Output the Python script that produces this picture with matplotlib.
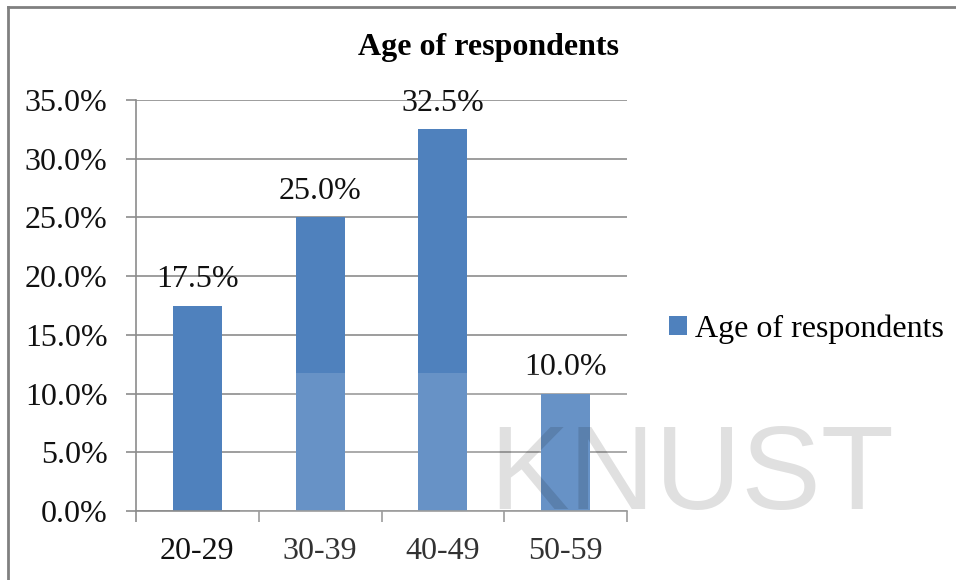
import matplotlib
matplotlib.use("Agg")
import matplotlib.pyplot as plt
from matplotlib.patches import Rectangle
from matplotlib.lines import Line2D
from matplotlib.ticker import FuncFormatter, FixedLocator

# data
age_groups = ["20-29", "30-39", "40-49", "50-59"]
share = [0.175, 0.250, 0.325, 0.100]
series_name = "Age of respondents"
title = "Age of respondents"

plt.rcParams['font.family'] = ['Liberation Serif', 'DejaVu Serif']

W, H = 956, 580
fig = plt.figure(figsize=(W / 100, H / 100), dpi=100)
ax = fig.add_axes([136 / W, 1 - 511 / H, (627 - 136) / W, (511 - 100) / H])

bar_col = '#4f81bd'
grid_col = '#8c8c8c'
x = list(range(len(age_groups)))
bars = ax.bar(x, share, width=0.4, color=bar_col, label=series_name, zorder=2)
ax.bar_label(bars, labels=["%.1f%%" % (v * 100) for v in share],
             padding=8, fontsize=23, color='#111111')

ax.set_xlim(-0.5, len(age_groups) - 0.5)
ax.set_ylim(0, 0.35)
ax.set_yticks([i * 0.05 for i in range(8)])
ax.yaxis.set_major_formatter(FuncFormatter(lambda v, p: "%.1f%%" % (v * 100)))
ax.yaxis.grid(True, color=grid_col, linewidth=1.2, zorder=0)
ax.set_axisbelow(True)

ax.set_xticks(x)
ax.set_xticklabels(age_groups)
ax.xaxis.set_minor_locator(FixedLocator([i - 0.5 for i in range(len(age_groups) + 1)]))
ax.tick_params(axis='x', which='major', length=0, pad=19, labelsize=23, labelcolor='#111111')
ax.tick_params(axis='x', which='minor', length=8, width=1.2, color=grid_col)
ax.tick_params(axis='y', length=7.5, width=1.2, color=grid_col, pad=13,
               labelsize=23, labelcolor='#111111')

for s in ['top', 'right']:
    ax.spines[s].set_visible(False)
for s in ['left', 'bottom']:
    ax.spines[s].set_color(grid_col)
    ax.spines[s].set_linewidth(1.2)

fig.text(488 / W, 1 - 47 / H, title, ha='center', va='center',
         fontsize=23, fontweight='bold')

leg = fig.legend(loc='center left', bbox_to_anchor=(669 / W, 1 - 329 / H),
                 frameon=False, fontsize=23, handlelength=0.55, handleheight=0.55,
                 handletextpad=0.25, borderpad=0, borderaxespad=0)

# scan artefacts: KNUST watermark and light overlay box
fig.patches.append(Rectangle((240 / W, 0), 1, 1 - 373 / H, transform=fig.transFigure,
                             facecolor='white', alpha=0.14, edgecolor='none', zorder=3))
fig.text(489 / W, 1 - 509 / H, "KNUST", family='Liberation Sans', fontsize=86,
         color='black', alpha=0.12, ha='left', va='baseline', zorder=4)

# outer chart border
fig.add_artist(Line2D([8 / W, 1], [1 - 7 / H, 1 - 7 / H], color='#808080', linewidth=2))
fig.add_artist(Line2D([8 / W, 8 / W], [0, 1 - 7 / H], color='#808080', linewidth=2))

fig.savefig("out.png", dpi=100)
